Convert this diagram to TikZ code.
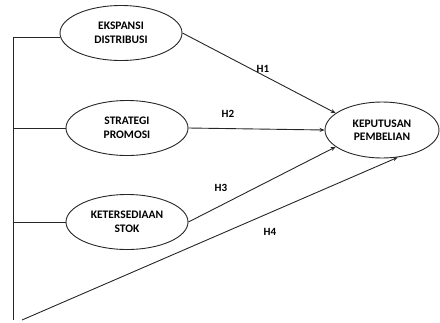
\documentclass[tikz,border=0pt]{standalone}
\usepackage{fontspec}
\setmainfont{Carlito}
\usetikzlibrary{shapes.geometric,arrows.meta}
\begin{document}
\begin{tikzpicture}[x=1pt,y=-1pt,
  var/.style={draw=black!85,line width=0.9pt,ellipse,minimum width=#1,minimum height=55pt,inner sep=0pt,align=center,font=\bfseries\fontsize{11.5}{13.5}\selectfont},
  var/.default=122pt,
  ln/.style={draw=black!85,line width=0.9pt},
  arr/.style={ln,-{Stealth[length=5pt,width=4pt]}},
  lab/.style={font=\bfseries\fontsize{11}{13}\selectfont}]
\useasboundingbox (0,0) rectangle (440,322);
\node[var] (ed) at (121,33) {EKSPANSI\\DISTRIBUSI};
\node[var] (sp) at (127,128) {STRATEGI\\PROMOSI};
\node[var] (ks) at (127,222) {KETERSEDIAAN\\STOK};
\node[var=114pt,minimum height=56pt] (kp) at (382,130) {KEPUTUSAN\\PEMBELIAN};
\coordinate (top) at (13,37);
\coordinate (bot) at (13,320);
\coordinate (h4s) at (22,320);
\draw[ln] (top) -- (bot);
\draw[ln] (top) -- (ed.west|-top);
\draw[ln] (13,128) -- (sp.west);
\draw[ln] (13,222) -- (ks.west);
\draw[arr] (ed.east) -- (kp.160);
\draw[arr] (sp.east) -- (kp.west);
\draw[arr] (ks.east) -- (kp.200);
\draw[arr] (h4s) -- (kp.-60);
\node[lab] at (263,69) {H1};
\node[lab] at (228,114) {H2};
\node[lab] at (221,188) {H3};
\node[lab] at (270,232) {H4};
\end{tikzpicture}
\end{document}
